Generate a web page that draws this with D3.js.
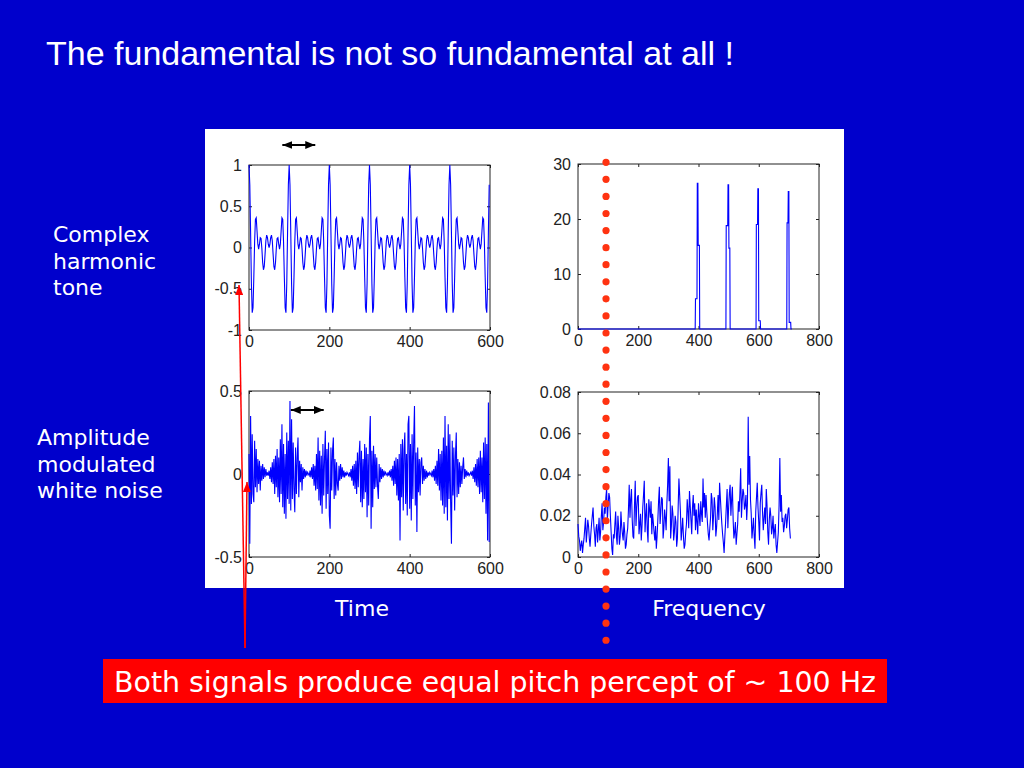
<!DOCTYPE html>
<html lang="en">
<head>
<meta charset="UTF-8">
<title>The fundamental is not so fundamental at all !</title>
<script src="https://d3js.org/d3.v7.min.js"></script>
<style>
    body { margin: 0; background: #0000cc; }
    svg { display: block; }
    .tick text { font-family: "Liberation Sans", Arial, sans-serif; font-size: 16px; fill: #222; }
    .tick line { stroke: #222; }
    .slide-text { font-family: "DejaVu Sans", Verdana, sans-serif; font-size: 22px; fill: #fff; }
</style>
</head>
<body>
<svg id="slide" width="1024" height="768"></svg>
<script>
// ---- tick values ----
const timeTicks = [0, 200, 400, 600];
const freqTicks = [0, 200, 400, 600, 800];
const toneTicks = [-1, -0.5, 0, 0.5, 1];
const noiseTicks = [-0.5, 0, 0.5];
const toneSpecTicks = [0, 10, 20, 30];
const noiseSpecTicks = [0, 0.02, 0.04, 0.06, 0.08];

// waveforms are sampled every 2 time units, noise spectrum every 2.5 Hz
const waveStep = 2;
const specStep = 2.5;

// complex harmonic tone (t = 0..598)
const toneWave = [
    1.00, 0.76, 0.18, -0.44, -0.79, -0.73, -0.36, 0.07, 0.34, 0.36, 0.20, 0.04, -0.02, 0.04, 0.12, 0.11, -0.01, -0.18, -0.27, -0.23, -0.08, 0.08, 0.15, 0.12, 0.04,
    0.00, 0.04, 0.12, 0.15, 0.08, -0.08, -0.23, -0.27, -0.18, -0.01, 0.11, 0.12, 0.04, -0.02, 0.04, 0.20, 0.36, 0.34, 0.07, -0.36, -0.73, -0.79, -0.44, 0.18, 0.76,
    1.00, 0.76, 0.18, -0.44, -0.79, -0.73, -0.36, 0.07, 0.34, 0.36, 0.20, 0.04, -0.02, 0.04, 0.12, 0.11, -0.01, -0.18, -0.27, -0.23, -0.08, 0.08, 0.15, 0.12, 0.04,
    0.00, 0.04, 0.12, 0.15, 0.08, -0.08, -0.23, -0.27, -0.18, -0.01, 0.11, 0.12, 0.04, -0.02, 0.04, 0.20, 0.36, 0.34, 0.07, -0.36, -0.73, -0.79, -0.44, 0.18, 0.76,
    1.00, 0.76, 0.18, -0.44, -0.79, -0.73, -0.36, 0.07, 0.34, 0.36, 0.20, 0.04, -0.02, 0.04, 0.12, 0.11, -0.01, -0.18, -0.27, -0.23, -0.08, 0.08, 0.15, 0.12, 0.04,
    0.00, 0.04, 0.12, 0.15, 0.08, -0.08, -0.23, -0.27, -0.18, -0.01, 0.11, 0.12, 0.04, -0.02, 0.04, 0.20, 0.36, 0.34, 0.07, -0.36, -0.73, -0.79, -0.44, 0.18, 0.76,
    1.00, 0.76, 0.18, -0.44, -0.79, -0.73, -0.36, 0.07, 0.34, 0.36, 0.20, 0.04, -0.02, 0.04, 0.12, 0.11, -0.01, -0.18, -0.27, -0.23, -0.08, 0.08, 0.15, 0.12, 0.04,
    0.00, 0.04, 0.12, 0.15, 0.08, -0.08, -0.23, -0.27, -0.18, -0.01, 0.11, 0.12, 0.04, -0.02, 0.04, 0.20, 0.36, 0.34, 0.07, -0.36, -0.73, -0.79, -0.44, 0.18, 0.76,
    1.00, 0.76, 0.18, -0.44, -0.79, -0.73, -0.36, 0.07, 0.34, 0.36, 0.20, 0.04, -0.02, 0.04, 0.12, 0.11, -0.01, -0.18, -0.27, -0.23, -0.08, 0.08, 0.15, 0.12, 0.04,
    0.00, 0.04, 0.12, 0.15, 0.08, -0.08, -0.23, -0.27, -0.18, -0.01, 0.11, 0.12, 0.04, -0.02, 0.04, 0.20, 0.36, 0.34, 0.07, -0.36, -0.73, -0.79, -0.44, 0.18, 0.76,
    1.00, 0.76, 0.18, -0.44, -0.79, -0.73, -0.36, 0.07, 0.34, 0.36, 0.20, 0.04, -0.02, 0.04, 0.12, 0.11, -0.01, -0.18, -0.27, -0.23, -0.08, 0.08, 0.15, 0.12, 0.04,
    0.00, 0.04, 0.12, 0.15, 0.08, -0.08, -0.23, -0.27, -0.18, -0.01, 0.11, 0.12, 0.04, -0.02, 0.04, 0.20, 0.36, 0.34, 0.07, -0.36, -0.73, -0.79, -0.44, 0.18, 0.76
];

// tone spectrum: harmonics 4..7 of 100 Hz (top-right plot)
const toneSpecFreq = [0, 389, 390, 395, 396, 398, 399, 403, 404,
    491, 492, 497, 498, 500, 501, 504, 505,
    591, 592, 596, 597, 599, 600, 605, 606,
    693, 694, 697, 698, 700, 701, 706, 707, 710];
const toneSpecAmp = [0, 0, 5.5, 5.5, 26.5, 26.5, 15.2, 15.2, 0,
    0, 18.8, 18.8, 26.2, 26.2, 14.7, 14.7, 0,
    0, 19.0, 19.0, 25.5, 25.5, 1.5, 1.5, 0,
    0, 19.3, 19.3, 25.0, 25.0, 1.2, 1.2, 0, 0];

// amplitude modulated white noise (bottom-left plot, t = 0..598)
const noiseWave = [
    0.12, -0.42, 0.35, -0.18, 0.24, -0.12, -0.17, 0.20, -0.08, 0.15, -0.11, 0.09, -0.06, 0.08, -0.10, 0.05, -0.04, 0.06, -0.03, 0.04, -0.02, 0.03, -0.01, 0.01, -0.01,
    0.02, -0.03, 0.04, -0.05, 0.07, -0.06, 0.09, -0.12, 0.11, -0.08, 0.15, -0.14, 0.10, -0.17, 0.21, -0.12, 0.30, -0.20, 0.18, -0.24, 0.12, -0.27, 0.25, -0.15, 0.20,
    -0.18, 0.44, -0.22, 0.33, -0.15, 0.19, -0.09, -0.23, 0.16, -0.12, 0.10, 0.22, -0.14, 0.08, -0.05, 0.06, -0.10, 0.04, -0.03, 0.03, -0.02, 0.02, -0.01, 0.01, 0.00,
    -0.01, 0.02, -0.02, 0.04, -0.03, 0.06, -0.07, 0.05, -0.10, 0.12, -0.09, 0.22, -0.16, 0.14, -0.19, 0.11, -0.24, 0.18, -0.13, 0.09, 0.26, -0.21, 0.15, -0.12, 0.19,
    -0.25, -0.33, 0.16, -0.10, 0.14, 0.22, -0.15, 0.09, -0.13, 0.07, -0.06, -0.10, 0.05, -0.04, 0.06, -0.03, 0.04, -0.02, 0.02, -0.02, 0.01, -0.01, 0.01, 0.00, -0.01,
    0.01, -0.02, 0.03, -0.04, 0.05, -0.07, 0.06, -0.09, 0.08, -0.12, 0.13, -0.08, 0.11, 0.20, -0.17, 0.14, -0.20, 0.09, -0.15, 0.18, -0.11, 0.16, -0.26, 0.12, -0.19,
    0.21, 0.35, -0.33, 0.14, -0.20, 0.17, -0.09, 0.12, -0.08, 0.10, -0.07, -0.15, 0.06, -0.05, 0.04, -0.03, 0.03, -0.02, 0.02, -0.01, 0.01, 0.00, -0.01, 0.01, -0.01,
    0.02, -0.02, 0.03, -0.04, 0.05, -0.07, 0.08, -0.06, 0.10, -0.13, 0.09, -0.16, 0.12, -0.40, 0.18, -0.14, 0.21, -0.22, 0.15, 0.25, -0.18, 0.12, -0.25, 0.30, 0.35,
    -0.21, 0.18, -0.28, 0.24, -0.15, 0.20, 0.41, -0.19, 0.13, -0.35, 0.16, -0.11, 0.09, -0.13, 0.07, 0.10, -0.06, 0.05, -0.04, 0.03, -0.03, 0.02, -0.02, 0.01, -0.01,
    0.01, 0.00, -0.01, 0.02, -0.02, 0.03, -0.04, 0.05, -0.06, 0.08, -0.07, 0.15, -0.10, 0.12, -0.16, 0.14, -0.19, 0.22, -0.24, 0.35, -0.20, 0.17, -0.28, 0.30, -0.15,
    0.24, -0.17, -0.42, 0.20, -0.13, 0.16, -0.22, 0.11, 0.25, -0.14, 0.09, -0.12, 0.07, -0.08, 0.05, -0.06, 0.04, 0.10, -0.03, 0.03, -0.02, 0.02, -0.01, 0.01, -0.01,
    0.00, 0.01, -0.01, 0.02, -0.03, 0.04, -0.05, 0.06, -0.07, 0.09, -0.08, 0.10, -0.12, 0.14, -0.11, 0.10, -0.17, 0.19, -0.15, 0.22, -0.24, 0.18, -0.40, 0.43, -0.41
];

// noise spectrum (bottom-right plot, 0..705 Hz)
const noiseSpec = [
    0.016, 0.010, 0.008, 0.003, 0.006, 0.008, 0.002, 0.006, 0.009, 0.014, 0.019, 0.007, 0.012, 0.018, 0.015, 0.009, 0.005, 0.011, 0.016, 0.020,
    0.024, 0.015, 0.011, 0.005, 0.014, 0.016, 0.007, 0.013, 0.019, 0.008, 0.012, 0.020, 0.026, 0.013, 0.017, 0.024, 0.021, 0.029, 0.033, 0.018,
    0.025, 0.031, 0.029, 0.020, 0.012, 0.004, 0.001, 0.011, 0.009, 0.016, 0.022, 0.010, 0.006, 0.020, 0.014, 0.006, 0.010, 0.022, 0.015, 0.011,
    0.008, 0.017, 0.012, 0.004, 0.006, 0.011, 0.014, 0.023, 0.035, 0.019, 0.028, 0.033, 0.018, 0.010, 0.009, 0.025, 0.037, 0.015, 0.024, 0.029,
    0.030, 0.011, 0.016, 0.021, 0.008, 0.015, 0.024, 0.030, 0.037, 0.012, 0.020, 0.026, 0.013, 0.007, 0.028, 0.023, 0.019, 0.027, 0.011, 0.021,
    0.017, 0.012, 0.008, 0.015, 0.004, 0.010, 0.018, 0.027, 0.034, 0.016, 0.022, 0.029, 0.028, 0.009, 0.014, 0.023, 0.019, 0.013, 0.026, 0.035,
    0.048, 0.027, 0.044, 0.009, 0.015, 0.025, 0.021, 0.008, 0.012, 0.020, 0.017, 0.005, 0.009, 0.024, 0.038, 0.030, 0.022, 0.008, 0.013, 0.019,
    0.010, 0.004, 0.006, 0.012, 0.016, 0.028, 0.022, 0.014, 0.032, 0.025, 0.018, 0.011, 0.024, 0.030, 0.020, 0.026, 0.013, 0.023, 0.017, 0.011,
    0.026, 0.020, 0.015, 0.027, 0.021, 0.017, 0.038, 0.024, 0.031, 0.019, 0.030, 0.022, 0.016, 0.011, 0.008, 0.014, 0.019, 0.031, 0.028, 0.013,
    0.020, 0.029, 0.024, 0.010, 0.014, 0.021, 0.030, 0.018, 0.036, 0.029, 0.022, 0.016, 0.011, 0.007, 0.002, 0.010, 0.017, 0.025, 0.033, 0.014,
    0.024, 0.031, 0.035, 0.020, 0.028, 0.034, 0.018, 0.009, 0.012, 0.017, 0.006, 0.011, 0.016, 0.027, 0.022, 0.031, 0.043, 0.019, 0.027, 0.033,
    0.031, 0.023, 0.025, 0.030, 0.018, 0.026, 0.068, 0.035, 0.049, 0.028, 0.021, 0.009, 0.014, 0.019, 0.010, 0.004, 0.022, 0.029, 0.036, 0.024,
    0.017, 0.008, 0.026, 0.031, 0.035, 0.022, 0.013, 0.019, 0.024, 0.016, 0.033, 0.025, 0.012, 0.006, 0.018, 0.024, 0.020, 0.011, 0.014, 0.020,
    0.009, 0.013, 0.016, 0.006, 0.002, 0.007, 0.012, 0.025, 0.048, 0.022, 0.030, 0.017, 0.019, 0.012, 0.015, 0.020, 0.021, 0.014, 0.018, 0.023,
    0.024, 0.014, 0.009
];

const svg = d3.select("#slide");

// slide background and white figure panel
svg.append("rect").attr("width", 1024).attr("height", 768).attr("fill", "#0000cc");
svg.append("rect")
    .attr("x", 205).attr("y", 129)
    .attr("width", 639).attr("height", 459)
    .attr("fill", "#ffffff");

// arrow heads
const defs = svg.append("defs");
function arrowMarker(id, color, len, wid) {
    defs.append("marker")
        .attr("id", id)
        .attr("viewBox", `0 0 ${len} ${wid}`)
        .attr("refX", len).attr("refY", wid / 2)
        .attr("markerWidth", len).attr("markerHeight", wid)
        .attr("markerUnits", "userSpaceOnUse")
        .attr("orient", "auto-start-reverse")
        .append("path")
        .attr("d", `M0,0 L${len},${wid / 2} L0,${wid} Z`)
        .attr("fill", color);
}
arrowMarker("head-black", "#000", 10, 8);
arrowMarker("head-red", "#ff0000", 10, 8);

const panels = [
    { left: 249, right: 490, top: 165, bottom: 330, xDomain: [0, 600], yDomain: [-1, 1],
      xTicks: timeTicks, yTicks: toneTicks, points: toneWave.map((v, i) => [i * waveStep, v]) },
    { left: 578, right: 819, top: 164, bottom: 329, xDomain: [0, 800], yDomain: [0, 30],
      xTicks: freqTicks, yTicks: toneSpecTicks, points: toneSpecFreq.map((f, i) => [f, toneSpecAmp[i]]) },
    { left: 249, right: 490, top: 391, bottom: 557, xDomain: [0, 600], yDomain: [-0.5, 0.5],
      xTicks: timeTicks, yTicks: noiseTicks, points: noiseWave.map((v, i) => [i * waveStep, v]) },
    { left: 578, right: 819, top: 392, bottom: 557, xDomain: [0, 800], yDomain: [0, 0.08],
      xTicks: freqTicks, yTicks: noiseSpecTicks, points: noiseSpec.map((v, i) => [i * specStep, v]) }
];

function drawPanel(p) {
    const x = d3.scaleLinear().domain(p.xDomain).range([p.left, p.right]);
    const y = d3.scaleLinear().domain(p.yDomain).range([p.bottom, p.top]);
    const g = svg.append("g");
    const tickLen = 3;

    // MATLAB style box with inward ticks on all four sides
    g.append("g").attr("transform", `translate(0,${p.bottom})`)
        .call(d3.axisBottom(x).tickValues(p.xTicks).tickSizeInner(-tickLen).tickSizeOuter(0)
            .tickPadding(6).tickFormat(d => String(d)));
    g.append("g").attr("transform", `translate(0,${p.top})`)
        .call(d3.axisTop(x).tickValues(p.xTicks).tickSizeInner(-tickLen).tickSizeOuter(0).tickFormat(""));
    g.append("g").attr("transform", `translate(${p.left},0)`)
        .call(d3.axisLeft(y).tickValues(p.yTicks).tickSizeInner(-tickLen).tickSizeOuter(0)
            .tickPadding(7).tickFormat(d => String(d)));
    g.append("g").attr("transform", `translate(${p.right},0)`)
        .call(d3.axisRight(y).tickValues(p.yTicks).tickSizeInner(-tickLen).tickSizeOuter(0).tickFormat(""));
    g.selectAll(".domain").remove();
    g.selectAll(".tick text").attr("font-family", null).attr("font-size", null);

    g.append("rect")
        .attr("x", p.left).attr("y", p.top)
        .attr("width", p.right - p.left).attr("height", p.bottom - p.top)
        .attr("fill", "none").attr("stroke", "#222").attr("stroke-width", 1);

    // the signal itself
    g.append("path")
        .datum(p.points)
        .attr("d", d3.line().x(d => x(d[0])).y(d => y(d[1])))
        .attr("fill", "none")
        .attr("stroke", "#0000ff")
        .attr("stroke-width", 1.1);

    return { x, y };
}

const scales = panels.map(drawPanel);

// black period markers
function doubleArrow(x1, x2, yPos) {
    svg.append("line")
        .attr("x1", x1).attr("x2", x2).attr("y1", yPos).attr("y2", yPos)
        .attr("stroke", "#000").attr("stroke-width", 2)
        .attr("marker-start", "url(#head-black)")
        .attr("marker-end", "url(#head-black)");
}
doubleArrow(scales[0].x(83), scales[0].x(165), 145);
doubleArrow(scales[2].x(104), scales[2].x(186), 410);

// red arrows pointing at the two waveforms
[[239, 285], [247, 482]].forEach(([tx, ty]) => {
    svg.append("line")
        .attr("x1", 245).attr("y1", 648).attr("x2", tx).attr("y2", ty)
        .attr("stroke", "#ff0000").attr("stroke-width", 1.5)
        .attr("marker-end", "url(#head-red)");
});

// red dotted line at ~100 Hz
const dotX = scales[1].x(93);
svg.append("g").selectAll("circle")
    .data(d3.range(29))
    .join("circle")
    .attr("cx", dotX)
    .attr("cy", i => 162.3 + i * 17.07)
    .attr("r", 3.6)
    .attr("fill", "#ff3311");

// texts
svg.append("text")
    .attr("x", 46).attr("y", 65)
    .attr("font-family", "'Liberation Sans', Arial, sans-serif")
    .attr("font-size", 34)
    .attr("fill", "#fff")
    .text("The fundamental is not so fundamental at all !");

function textLines(lines, x, y0) {
    lines.forEach((t, i) => {
        svg.append("text").attr("class", "slide-text")
            .attr("x", x).attr("y", y0 + i * 26.7).text(t);
    });
}
textLines(["Complex", "harmonic", "tone"], 53, 242);
textLines(["Amplitude", "modulated", "white noise"], 37, 445);

svg.append("text").attr("class", "slide-text")
    .attr("x", 362).attr("y", 616).attr("text-anchor", "middle").text("Time");
svg.append("text").attr("class", "slide-text")
    .attr("x", 709).attr("y", 616).attr("text-anchor", "middle").text("Frequency");

// conclusion box
svg.append("rect")
    .attr("x", 103).attr("y", 659)
    .attr("width", 784).attr("height", 44)
    .attr("fill", "#ff0000");
svg.append("text")
    .attr("x", 114).attr("y", 692)
    .attr("font-family", "'DejaVu Sans', Verdana, sans-serif")
    .attr("font-size", 28)
    .attr("textLength", 762)
    .attr("lengthAdjust", "spacingAndGlyphs")
    .attr("fill", "#fff")
    .text("Both signals produce equal pitch percept of ~ 100 Hz");
</script>
</body>
</html>
